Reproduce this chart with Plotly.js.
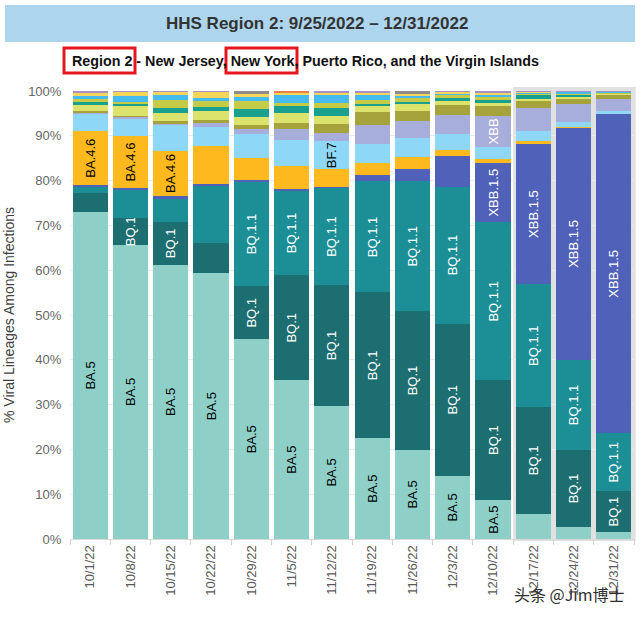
<!DOCTYPE html>
<html><head><meta charset="utf-8">
<script src="https://cdn.plot.ly/plotly-3.0.1.min.js"></script>
<style>html,body{margin:0;padding:0;background:#fff;}#chart{width:640px;height:618px;}</style>
</head><body><div id="chart"></div>
<script>
// ---- data (percent of infections) ----
const weeks = ["10/1/22","10/8/22","10/15/22","10/22/22","10/29/22","11/5/22","11/12/22","11/19/22","11/26/22","12/3/22","12/10/22","12/17/22","12/24/22","12/31/22"];
const BA5     = [73.0, 65.6, 61.2, 58.9, 44.4, 35.3, 29.7, 22.5, 19.9, 14.1, 8.7, 5.6, 2.7, 1.6];
const BQ1     = [4.2, 6.0, 9.6, 6.7, 11.9, 23.4, 27.0, 32.6, 30.8, 34.1, 26.8, 23.9, 17.2, 9.1];
const BQ11    = [1.4, 6.3, 5.2, 12.7, 23.2, 18.8, 21.6, 24.8, 29.0, 30.6, 35.3, 27.4, 20.2, 13.0];
const XBB15   = [0.4, 0.3, 0.5, 0.3, 0.3, 0.3, 0.3, 1.5, 2.8, 6.8, 13.3, 31.4, 51.9, 71.5];
const BA46    = [12.0, 11.7, 10.2, 8.4, 5.0, 5.2, 3.9, 2.7, 2.7, 1.3, 1.0, 0.6, 0.2, 0.15];
const BF7     = [3.8, 3.8, 5.8, 4.4, 5.4, 5.8, 6.3, 4.2, 4.1, 3.7, 2.6, 2.2, 1.1, 0.6];
const XBB     = [0.2, 0.4, 0.2, 0.7, 1.1, 2.4, 1.8, 4.1, 3.9, 4.2, 6.9, 5.1, 4.0, 2.6];
const BN1     = [0.6, 0.2, 0.5, 0.8, 0.8, 1.3, 2.1, 2.9, 2.2, 2.2, 2.2, 1.7, 1.3, 0.9];
const BA2752  = [1.3, 2.2, 1.8, 1.9, 1.9, 2.2, 1.7, 1.5, 1.5, 1.0, 0.7, 0.5, 0.4, 0.3];
const BA526   = [0.6, 0.5, 1.3, 1.0, 1.8, 1.7, 1.9, 0.3, 0.5, 0.7, 0.8, 0.7, 0.4, 0.0];
const BF11    = [0.8, 0.4, 1.6, 1.3, 1.6, 0.7, 1.0, 1.1, 0.8, 0.6, 0.5, 0.3, 0.2, 0.3];
const BA275   = [0.6, 1.3, 1.3, 0.7, 1.0, 1.8, 1.8, 1.1, 0.5, 0.2, 0.6, 0.3, 0.4, 0.1];
const BA4     = [0.7, 0.9, 0.5, 1.2, 0.6, 0.3, 0.5, 0.3, 0.4, 0.4, 0.3, 0.1, 0.1, 0.1];
const BA2     = [0.4, 0.3, 0.3, 0.3, 0.0, 0.0, 0.4, 0.5, 0.0, 0.3, 0.5, 0.3, 0.2, 0.2];
const Other   = [0, 0, 0, 0, 0.7, 0, 0, 0, 0.7, 0, 0, 0, 0, 0];
const B11529  = [0, 0, 0, 0, 0, 0.5, 0, 0, 0, 0, 0, 0, 0, 0];

// which bars carry an in-bar label for each lineage
const labBA5   = [1,1,1,1,1,1,1,1,1,1,1,0,0,0];
const labBQ1   = [0,1,1,0,1,1,1,1,1,1,1,1,1,1];
const labBQ11  = [0,0,0,0,1,1,1,1,1,1,1,1,1,1];
const labXBB15 = [0,0,0,0,0,0,0,0,0,0,1,1,1,1];
const labBA46  = [1,1,1,0,0,0,0,0,0,0,0,0,0,0];
const labBF7   = [0,0,0,0,0,0,1,0,0,0,0,0,0,0];
const labXBB   = [0,0,0,0,0,0,0,0,0,0,1,0,0,0];

const title = "HHS Region 2: 9/25/2022 \u2013 12/31/2022";
const subtitle = "Region 2 - New Jersey, New York, Puerto Rico, and the Virgin Islands";
const yTitle = "% Viral Lineages Among Infections";

// ---- build ----
const FONT = "Liberation Sans, Arial, sans-serif";
const W = 640, H = 618, L = 70, R = 6, T = 91, B = 79;
const pw = W - L - R, ph = H - T - B;
const px = x => (x - L) / pw;
const py = y => (H - B - y) / ph;

const series = [
  ["BA.5", BA5, "#8ed0c8", labBA5, "#000"],
  ["BQ.1", BQ1, "#1d6e70", labBQ1, "#fff"],
  ["BQ.1.1", BQ11, "#1c8e96", labBQ11, "#fff"],
  ["XBB.1.5", XBB15, "#5061b9", labXBB15, "#fff"],
  ["BA.4.6", BA46, "#fdb91e", labBA46, "#000"],
  ["BF.7", BF7, "#8fd7f7", labBF7, "#000"],
  ["XBB", XBB, "#a8aedb", labXBB, "#fff"],
  ["BN.1", BN1, "#a6a33c", null, null],
  ["BA.2.75.2", BA2752, "#dbe36c", null, null],
  ["BA.5.2.6", BA526, "#1aa08e", null, null],
  ["BF.11", BF11, "#c5cb47", null, null],
  ["BA.2.75", BA275, "#45bbf0", null, null],
  ["BA.4", BA4, "#f6d65a", null, null],
  ["BA.2", BA2, "#a890c6", null, null],
  ["Other", Other, "#8c8c8c", null, null],
  ["B.1.1.529", B11529, "#e8804a", null, null]
];

const traces = series.map(([name, vals, color, lab, tcol]) => {
  const t = {
    type: "bar", name: name, x: weeks, y: vals,
    marker: {color: color, line: {width: 0}},
    hoverinfo: "skip"
  };
  if (lab) {
    t.text = lab.map(v => v ? name : "");
    t.textposition = "inside";
    t.textangle = -90;
    t.insidetextanchor = "middle";
    t.constraintext = "none";
    t.insidetextfont = {family: FONT, size: 13, color: tcol};
  } else {
    t.textposition = "none";
  }
  return t;
});

const layout = {
  width: W, height: H,
  margin: {l: L, r: R, t: T, b: B, pad: 0},
  paper_bgcolor: "#ffffff",
  plot_bgcolor: "rgba(0,0,0,0)",
  barmode: "stack",
  barnorm: "percent",
  bargap: 0.13,
  showlegend: false,
  font: {family: FONT},
  xaxis: {
    type: "category", range: [-0.5, 13.5], fixedrange: true,
    tickangle: -90, tickfont: {size: 13, color: "#595959"},
    ticks: "outside", tickson: "boundaries", ticklen: 5, tickcolor: "#d0d0d0",
    showline: true, linecolor: "#d9d9d9", linewidth: 1, showgrid: false
  },
  yaxis: {
    range: [0, 100], dtick: 10, ticksuffix: "%", fixedrange: true,
    tickfont: {size: 13, color: "#666666"},
    ticks: "outside", ticklen: 5, tickcolor: "rgba(0,0,0,0)",
    showgrid: true, gridcolor: "#ebebeb", zeroline: false, showline: false,
    title: {text: yTitle, font: {size: 14, color: "#404040"}, standoff: 10}
  },
  shapes: [
    {type: "rect", xref: "paper", yref: "paper", layer: "below",
     x0: px(5), x1: px(635), y0: py(42), y1: py(5),
     fillcolor: "#aed5ee", line: {width: 0}},
    {type: "rect", xref: "paper", yref: "paper", layer: "below",
     x0: 11 / 14, x1: 1.003, y0: py(541), y1: py(87),
     fillcolor: "#e1e1e1", line: {width: 0}},
    {type: "rect", xref: "paper", yref: "paper",
     x0: px(64), x1: px(135), y0: py(73), y1: py(48),
     line: {color: "#e5161e", width: 3}, fillcolor: "rgba(0,0,0,0)"},
    {type: "rect", xref: "paper", yref: "paper",
     x0: px(226), x1: px(297), y0: py(73), y1: py(48),
     line: {color: "#e5161e", width: 3}, fillcolor: "rgba(0,0,0,0)"}
  ],
  annotations: [
    {xref: "paper", yref: "paper", x: px(317), y: py(23), xanchor: "center", yanchor: "middle",
     text: "<b>" + title + "</b>", showarrow: false,
     font: {family: FONT, size: 17, color: "#333333"}},
    {xref: "paper", yref: "paper", x: px(70), y: py(61), xanchor: "left", yanchor: "middle",
     text: "<b>" + subtitle + "</b>", showarrow: false,
     font: {family: FONT, size: 14.3, color: "#111111"}},
    {xref: "paper", yref: "paper", x: px(569), y: py(594), xanchor: "center", yanchor: "middle",
     text: "头条 @Jim博士", showarrow: false,
     font: {family: "Noto Sans CJK SC, sans-serif", size: 16, color: "#2e2e2e"}}
  ]
};

Plotly.newPlot("chart", traces, layout, {displayModeBar: false, staticPlot: true});
</script>
</body></html>
